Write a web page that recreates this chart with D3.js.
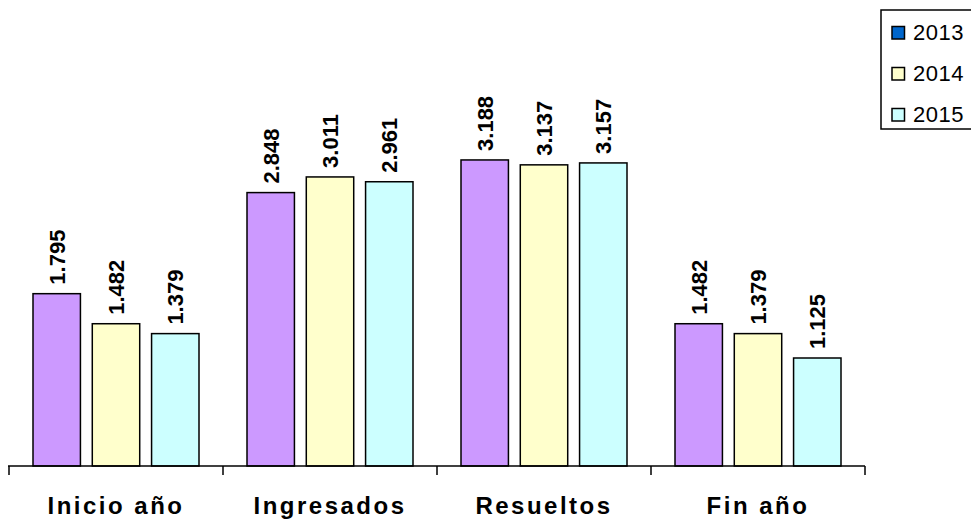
<!DOCTYPE html>
<html>
<head>
<meta charset="utf-8">
<script src="https://cdn.jsdelivr.net/npm/d3@7"></script>
<style>
  html, body { margin: 0; padding: 0; background: #fff; }
  svg { display: block; font-family: Arial, "Liberation Sans", sans-serif; }
</style>
</head>
<body>
<svg id="chart" width="971" height="520"></svg>
<script>
const categories = ["Inicio año", "Ingresados", "Resueltos", "Fin año"];
const series = ["2013", "2014", "2015"];
const values2013 = [1795, 2848, 3188, 1482];
const values2014 = [1482, 3011, 3137, 1379];
const values2015 = [1379, 2961, 3157, 1125];
const barColors = ["#CC99FF", "#FFFFCC", "#CCFFFF"];
const legendColors = ["#0066CC", "#FFFFCC", "#CCFFFF"];

const seriesValues = [values2013, values2014, values2015];
const data = categories.map((c, i) => ({
  cat: c,
  vals: series.map((s, j) => ({ s, j, v: seriesValues[j][i] }))
}));

const svg = d3.select("#chart");
const fmt = d3.formatLocale({ decimal: ",", thousands: ".", grouping: [3], currency: ["", ""] }).format(",d");

const x0 = d3.scaleBand().domain(categories).range([9, 865]).padding(0);
const x1 = d3.scaleBand().domain(series).range([24, x0.bandwidth() - 24]).paddingInner(0.2);
const y = d3.scaleLinear().domain([0, 3500]).range([466, 130]);

// bars
const groups = svg.selectAll("g.cat").data(data).join("g")
  .attr("class", "cat")
  .attr("transform", d => `translate(${x0(d.cat)},0)`);

groups.selectAll("rect").data(d => d.vals).join("rect")
  .attr("x", d => x1(d.s))
  .attr("y", d => y(d.v))
  .attr("width", x1.bandwidth())
  .attr("height", d => y(0) - y(d.v))
  .attr("fill", d => barColors[d.j])
  .attr("stroke", "#000")
  .attr("stroke-width", 1.5);

groups.selectAll("text.val").data(d => d.vals).join("text")
  .attr("class", "val")
  .attr("transform", d => `translate(${x1(d.s) + x1.bandwidth() / 2},${y(d.v) - 9}) rotate(-90)`)
  .attr("dy", "0.36em")
  .attr("text-anchor", "start")
  .attr("font-size", 22)
  .attr("font-weight", "bold")
  .attr("fill", "#000")
  .text(d => fmt(d.v));

// x axis
const axis = d3.axisBottom(x0).tickSize(0).tickFormat("");
const axG = svg.append("g").attr("transform", "translate(0,466)").call(axis);
axG.select(".domain").attr("stroke", "#000").attr("stroke-width", 1.5).attr("d", "M8,0H865");
const tickPos = categories.map(c => x0(c)).concat([x0.range()[1]]);
axG.selectAll("line.tk").data(tickPos).join("line")
  .attr("class", "tk")
  .attr("x1", d => d).attr("x2", d => d)
  .attr("y1", 0).attr("y2", 9)
  .attr("stroke", "#000").attr("stroke-width", 1.5);
axG.selectAll("text.cl").data(categories).join("text")
  .attr("class", "cl")
  .attr("x", d => x0(d) + x0.bandwidth() / 2)
  .attr("y", 48)
  .attr("text-anchor", "middle")
  .attr("font-size", 24)
  .attr("font-weight", "bold")
  .attr("letter-spacing", "2.5px")
  .attr("fill", "#000")
  .text(d => d);

// legend
const lg = svg.append("g");
lg.append("rect").attr("x", 881).attr("y", 10).attr("width", 100).attr("height", 119)
  .attr("fill", "#fff").attr("stroke", "#000").attr("stroke-width", 1.5);
const li = lg.selectAll("g.li").data(series).join("g")
  .attr("class", "li")
  .attr("transform", (d, i) => `translate(892,${40 + i * 41})`);
li.append("rect").attr("x", 0).attr("y", -13.5).attr("width", 12.5).attr("height", 12.5)
  .attr("fill", (d, i) => legendColors[i]).attr("stroke", "#000").attr("stroke-width", 1.5);
li.append("text").attr("x", 21).attr("y", 0).attr("font-size", 22).attr("letter-spacing", "0.5px").attr("fill", "#000").text(d => d);
</script>
</body>
</html>
